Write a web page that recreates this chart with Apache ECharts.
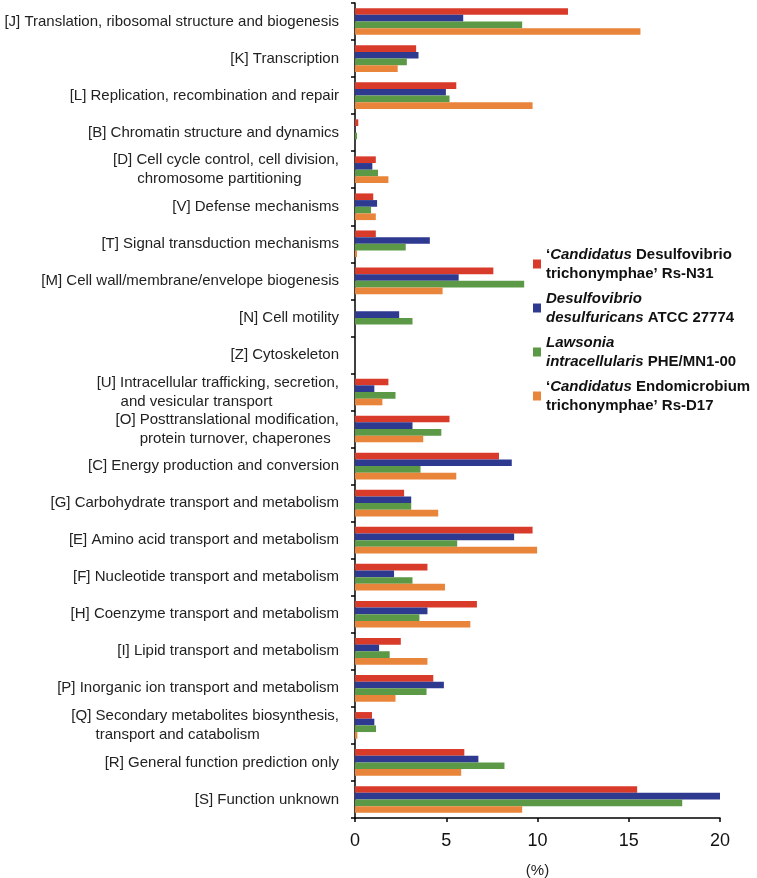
<!DOCTYPE html>
<html>
<head>
<meta charset="utf-8">
<script src="https://cdn.jsdelivr.net/npm/echarts@6/dist/echarts.min.js"></script>
<style>html,body{margin:0;padding:0;background:#fff}#c{width:757px;height:878px}</style>
</head>
<body>
<div id="c"></div>
<script>
const categories = [
  "[J] Translation, ribosomal structure and biogenesis",
  "[K] Transcription",
  "[L] Replication, recombination and repair",
  "[B] Chromatin structure and dynamics",
  "[D] Cell cycle control, cell division,\nchromosome partitioning",
  "[V] Defense mechanisms",
  "[T] Signal transduction mechanisms",
  "[M] Cell wall/membrane/envelope biogenesis",
  "[N] Cell motility",
  "[Z] Cytoskeleton",
  "[U] Intracellular trafficking, secretion,\nand vesicular transport",
  "[O] Posttranslational modification,\nprotein turnover, chaperones",
  "[C] Energy production and conversion",
  "[G] Carbohydrate transport and metabolism",
  "[E] Amino acid transport and metabolism",
  "[F] Nucleotide transport and metabolism",
  "[H] Coenzyme transport and metabolism",
  "[I] Lipid transport and metabolism",
  "[P] Inorganic ion transport and metabolism",
  "[Q] Secondary metabolites biosynthesis,\ntransport and catabolism",
  "[R] General function prediction only",
  "[S] Function unknown"
];
const seriesNames = ["RsN31", "ATCC27774", "PHEMN100", "RsD17"];
const rsN31     = [11.67, 3.35, 5.55, 0.18, 1.14, 1.00, 1.14, 7.58, 0, 0, 1.83, 5.18, 7.89, 2.69, 9.73, 3.97, 6.68, 2.51, 4.29, 0.93, 5.99, 15.46];
const atcc27774 = [5.93, 3.48, 4.98, 0, 0.95, 1.21, 4.10, 5.68, 2.42, 0, 1.06, 3.15, 8.59, 3.08, 8.72, 2.14, 3.97, 1.32, 4.87, 1.06, 6.76, 20.0];
const pheMN100  = [9.16, 2.84, 5.18, 0.11, 1.26, 0.88, 2.78, 9.27, 3.15, 0, 2.22, 4.73, 3.59, 3.08, 5.60, 3.15, 3.53, 1.90, 3.92, 1.15, 8.19, 17.93];
const rsD17     = [15.64, 2.34, 9.73, 0, 1.83, 1.14, 0.11, 4.80, 0, 0, 1.50, 3.74, 5.55, 4.56, 9.98, 4.93, 6.32, 3.97, 2.22, 0.13, 5.82, 9.16];
const xTicks = [0, 5, 10, 15, 20];
const legendLabels = {
  RsN31: "{b|\u2018}{i|Candidatus}{b| Desulfovibrio}\n{b|trichonymphae\u2019 Rs-N31}",
  ATCC27774: "{i|Desulfovibrio}\n{i|desulfuricans}{b| ATCC 27774}",
  PHEMN100: "{i|Lawsonia}\n{i|intracellularis}{b| PHE/MN1-00}",
  RsD17: "{b|\u2018}{i|Candidatus}{b| Endomicrobium}\n{b|trichonymphae\u2019 Rs-D17}"
};
const colors = ["#d93b2b", "#2e3990", "#5b9947", "#e8853a"];

const FONT = '"Liberation Sans", Arial, Helvetica, sans-serif';
const labelSize = 15;
const ctx = document.createElement('canvas').getContext('2d');
ctx.font = labelSize + 'px "Liberation Sans"';
const nbspW = ctx.measureText('\u00a0').width || 4.17;
function formatLabel(v) {
  const parts = v.split('\n');
  if (parts.length < 2) return v;
  const w1 = ctx.measureText(parts[0]).width;
  const w2 = ctx.measureText(parts[1]).width;
  const pad = Math.max(0, w1 - 25 - w2);
  return parts[0] + '\n' + parts[1] + '\u00a0'.repeat(Math.round(pad / nbspW));
}

const chart = echarts.init(document.getElementById('c'), null, {renderer: 'canvas'});
const dataSets = [rsN31, atcc27774, pheMN100, rsD17];
chart.setOption({
  animation: false,
  backgroundColor: '#fff',
  grid: {left: 355, right: 37, top: 3, bottom: 60, containLabel: false, outerBoundsMode: 'none'},
  legend: {
    orient: 'vertical',
    left: 533, top: 245, padding: 0,
    itemWidth: 8, itemHeight: 9, itemGap: 6,
    icon: 'rect',
    data: seriesNames,
    formatter: n => legendLabels[n],
    textStyle: {
      color: '#111', fontFamily: FONT, fontSize: 15, lineHeight: 19,
      rich: {
        b: {fontWeight: 'bold', fontSize: 15, fontFamily: FONT, color: '#111', lineHeight: 19},
        i: {fontWeight: 'bold', fontStyle: 'italic', fontSize: 15, fontFamily: FONT, color: '#111', lineHeight: 19}
      }
    }
  },
  xAxis: {
    type: 'value', min: xTicks[0], max: xTicks[xTicks.length - 1], interval: 5,
    name: '(%)', nameLocation: 'middle', nameGap: 45,
    nameTextStyle: {fontFamily: FONT, fontSize: 15, color: '#222'},
    axisLine: {show: true, lineStyle: {color: '#000', width: 1.5}},
    axisTick: {show: true, length: 4, lineStyle: {color: '#000', width: 1.5}},
    axisLabel: {fontFamily: FONT, fontSize: 18, color: '#111', margin: 14},
    splitLine: {show: false}
  },
  yAxis: {
    type: 'category', inverse: true, data: categories,
    axisLine: {show: true, lineStyle: {color: '#000', width: 1.5}},
    axisTick: {show: true, length: 4, lineStyle: {color: '#000', width: 1.5}},
    axisLabel: {fontFamily: FONT, fontSize: labelSize, color: '#222', margin: 16, lineHeight: 19, formatter: formatLabel, interval: 0}
  },
  series: seriesNames.map((n, k) => ({
    name: n, type: 'bar', data: dataSets[k],
    itemStyle: {color: colors[k]},
    barGap: '0%', barCategoryGap: '28%'
  }))
});
</script>
</body>
</html>
